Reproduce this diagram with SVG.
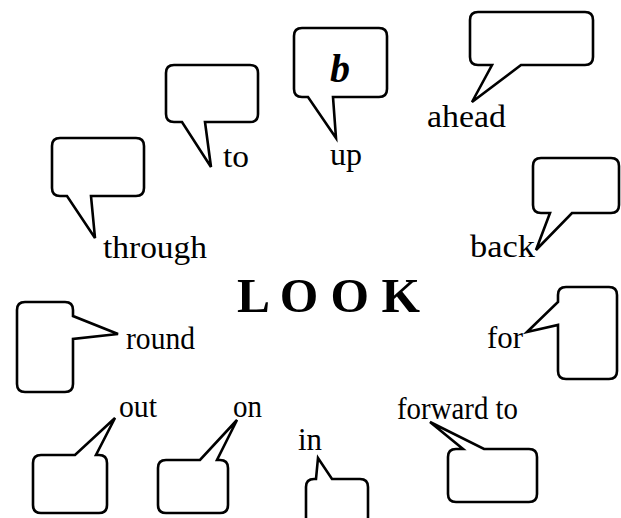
<svg xmlns="http://www.w3.org/2000/svg" width="621" height="518" viewBox="0 0 621 518">
<style>
.b{fill:#fff;stroke:#000;stroke-width:2.6;stroke-linejoin:miter}
.t{font-family:"Liberation Serif","Times New Roman",serif;font-size:32px;fill:#000}
.title{font-family:"Liberation Serif","Times New Roman",serif;font-size:49px;font-weight:bold;fill:#000}
.bi{font-family:"Liberation Serif","Times New Roman",serif;font-size:40px;font-weight:bold;font-style:italic;fill:#000}
</style>
<rect width="621" height="518" fill="#fff"/>
<g id="connectors"></g>
<g id="title"><text class="title" x="237" y="312" textLength="183" lengthAdjust="spacingAndGlyphs">L O O K</text></g>
<g id="node-to">
<path class="b" d="M174,65 H250 Q258,65 258,73 V114 Q258,122 250,122 H205 L211,167 L182,122 H174 Q166,122 166,114 V73 Q166,65 174,65 Z"/>
<text class="t" x="223" y="167" textLength="26" lengthAdjust="spacingAndGlyphs">to</text>
</g>
<g id="node-up">
<path class="b" d="M302,28 H379 Q387,28 387,36 V89 Q387,97 379,97 H333 L336,138 L308,97 H302 Q294,97 294,89 V36 Q294,28 302,28 Z"/>
<text class="bi" x="330" y="82">b</text>
<text class="t" x="330" y="165" textLength="32" lengthAdjust="spacingAndGlyphs">up</text>
</g>
<g id="node-ahead">
<path class="b" d="M478,12 H585 Q593,12 593,20 V57 Q593,65 585,65 H521 L472,102 L492,65 H478 Q470,65 470,57 V20 Q470,12 478,12 Z"/>
<text class="t" x="427" y="127" textLength="79" lengthAdjust="spacingAndGlyphs">ahead</text>
</g>
<g id="node-through">
<path class="b" d="M60,138 H136 Q144,138 144,146 V188 Q144,196 136,196 H91 L95,238 L67,196 H60 Q52,196 52,188 V146 Q52,138 60,138 Z"/>
<text class="t" x="103" y="258" textLength="104" lengthAdjust="spacingAndGlyphs">through</text>
</g>
<g id="node-back">
<path class="b" d="M541,158 H611 Q619,158 619,166 V205 Q619,213 611,213 H572 L536,250 L550,213 H541 Q533,213 533,205 V166 Q533,158 541,158 Z"/>
<text class="t" x="470" y="257" textLength="65" lengthAdjust="spacingAndGlyphs">back</text>
</g>
<g id="node-round">
<path class="b" d="M25,302 H65 Q73,302 73,310 V316 L118,334 L73,339 V384 Q73,392 65,392 H25 Q17,392 17,384 V310 Q17,302 25,302 Z"/>
<text class="t" x="126" y="349" textLength="69" lengthAdjust="spacingAndGlyphs">round</text>
</g>
<g id="node-for">
<path class="b" d="M566,287 H609 Q617,287 617,295 V371 Q617,379 609,379 H566 Q558,379 558,371 V325 L527,332 L558,302 V295 Q558,287 566,287 Z"/>
<text class="t" x="487" y="348" textLength="36" lengthAdjust="spacingAndGlyphs">for</text>
</g>
<g id="node-out">
<path class="b" d="M41,455 H75 L115,418 L96,455 H99 Q107,455 107,463 V505 Q107,513 99,513 H41 Q33,513 33,505 V463 Q33,455 41,455 Z"/>
<text class="t" x="119" y="417" textLength="38" lengthAdjust="spacingAndGlyphs">out</text>
</g>
<g id="node-on">
<path class="b" d="M166,460 H200 L237,420 L217,460 H220 Q228,460 228,468 V505 Q228,513 220,513 H166 Q158,513 158,505 V468 Q158,460 166,460 Z"/>
<text class="t" x="233" y="417" textLength="29" lengthAdjust="spacingAndGlyphs">on</text>
</g>
<g id="node-in">
<path class="b" d="M314,479 H316 L318,458 L332,479 H360 Q368,479 368,487 V530 H306 V487 Q306,479 314,479 Z"/>
<text class="t" x="298" y="450" textLength="24" lengthAdjust="spacingAndGlyphs">in</text>
</g>
<g id="node-forward-to">
<path class="b" d="M456,449 H463 L430,422 L484,449 H529 Q537,449 537,457 V494 Q537,502 529,502 H456 Q448,502 448,494 V457 Q448,449 456,449 Z"/>
<text class="t" x="397" y="419" textLength="121" lengthAdjust="spacingAndGlyphs">forward to</text>
</g>
</svg>
